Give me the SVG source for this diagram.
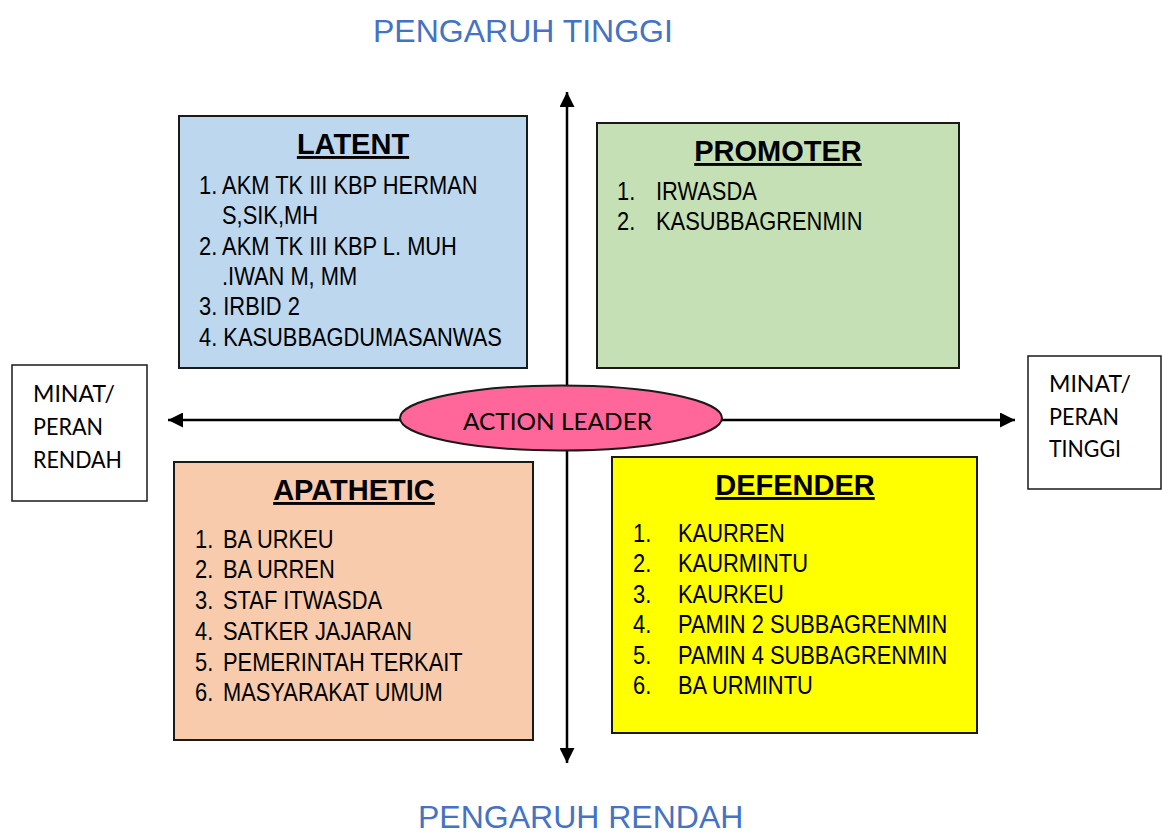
<svg xmlns="http://www.w3.org/2000/svg" width="1162" height="835" viewBox="0 0 1162 835">
<style>
  .box{stroke:#1a1a1a;stroke-width:2}
  .title{font-family:"Liberation Sans",Arial,sans-serif;font-size:29px;font-weight:bold;fill:#000;text-anchor:middle;text-decoration:underline}
  .it{font-family:"Liberation Sans",Arial,sans-serif;font-size:25px;fill:#000}
  .side{font-family:Lato,"Liberation Sans",sans-serif;font-size:24px;fill:#000}
  .axis{font-family:"Liberation Sans",Arial,sans-serif;font-size:32px;fill:#4472C4}
  .ax{stroke:#000;stroke-width:2.5;fill:none}
</style>
<defs>
  <marker id="arr" viewBox="0 0 10 10" refX="10" refY="5" markerWidth="16" markerHeight="15" markerUnits="userSpaceOnUse" orient="auto">
    <path d="M0,0 L10,5 L0,10 Z" fill="#000"/>
  </marker>
</defs>
<rect width="1162" height="835" fill="#fff"/>
<g id="axis-labels">
  <text class="axis" x="373" y="42">PENGARUH TINGGI</text>
  <text class="axis" x="418" y="828">PENGARUH RENDAH</text>
</g>
<g id="connectors">
  <line class="ax" x1="567" y1="420" x2="567" y2="92" marker-end="url(#arr)"/>
  <line class="ax" x1="567" y1="420" x2="567" y2="763" marker-end="url(#arr)"/>
  <line class="ax" x1="561" y1="420" x2="168" y2="420" marker-end="url(#arr)"/>
  <line class="ax" x1="561" y1="420" x2="1015" y2="420" marker-end="url(#arr)"/>
</g>
<g id="latent">
  <rect class="box" x="179" y="116" width="348" height="252" fill="#BDD7EE"/>
  <text class="title" x="353" y="154">LATENT</text>
  <text class="it" transform="translate(199 194) scale(.875 1)">1. AKM TK III KBP HERMAN</text>
  <text class="it" transform="translate(222 224) scale(.875 1)">S,SIK,MH</text>
  <text class="it" transform="translate(199 255) scale(.875 1)">2. AKM TK III KBP L. MUH</text>
  <text class="it" transform="translate(222 285) scale(.875 1)">.IWAN M, MM</text>
  <text class="it" transform="translate(199 315) scale(.875 1)">3. IRBID 2</text>
  <text class="it" transform="translate(199 346) scale(.875 1)">4. KASUBBAGDUMASANWAS</text>
</g>
<g id="promoter">
  <rect class="box" x="597" y="123" width="362" height="245" fill="#C5E0B4"/>
  <text class="title" x="778" y="161">PROMOTER</text>
  <text class="it" transform="translate(617 200) scale(.875 1)">1.</text>
  <text class="it" transform="translate(656 200) scale(.875 1)">IRWASDA</text>
  <text class="it" transform="translate(617 230) scale(.875 1)">2.</text>
  <text class="it" transform="translate(656 230) scale(.875 1)">KASUBBAGRENMIN</text>
</g>
<g id="apathetic">
  <rect class="box" x="174" y="462" width="359" height="278" fill="#F8CBAD"/>
  <text class="title" x="354" y="500">APATHETIC</text>
  <text class="it" transform="translate(195 548) scale(.875 1)">1.</text>
  <text class="it" transform="translate(223 548) scale(.875 1)">BA URKEU</text>
  <text class="it" transform="translate(195 578) scale(.875 1)">2.</text>
  <text class="it" transform="translate(223 578) scale(.875 1)">BA URREN</text>
  <text class="it" transform="translate(195 609) scale(.875 1)">3.</text>
  <text class="it" transform="translate(223 609) scale(.875 1)">STAF ITWASDA</text>
  <text class="it" transform="translate(195 640) scale(.875 1)">4.</text>
  <text class="it" transform="translate(223 640) scale(.875 1)">SATKER JAJARAN</text>
  <text class="it" transform="translate(195 671) scale(.875 1)">5.</text>
  <text class="it" transform="translate(223 671) scale(.875 1)">PEMERINTAH TERKAIT</text>
  <text class="it" transform="translate(195 701) scale(.875 1)">6.</text>
  <text class="it" transform="translate(223 701) scale(.875 1)">MASYARAKAT UMUM</text>
</g>
<g id="defender">
  <rect class="box" x="612" y="457" width="365" height="276" fill="#FFFF00"/>
  <text class="title" x="795" y="495">DEFENDER</text>
  <text class="it" transform="translate(633 542) scale(.875 1)">1.</text>
  <text class="it" transform="translate(678 542) scale(.875 1)">KAURREN</text>
  <text class="it" transform="translate(633 572) scale(.875 1)">2.</text>
  <text class="it" transform="translate(678 572) scale(.875 1)">KAURMINTU</text>
  <text class="it" transform="translate(633 603) scale(.875 1)">3.</text>
  <text class="it" transform="translate(678 603) scale(.875 1)">KAURKEU</text>
  <text class="it" transform="translate(633 633) scale(.875 1)">4.</text>
  <text class="it" transform="translate(678 633) scale(.875 1)">PAMIN 2 SUBBAGRENMIN</text>
  <text class="it" transform="translate(633 664) scale(.875 1)">5.</text>
  <text class="it" transform="translate(678 664) scale(.875 1)">PAMIN 4 SUBBAGRENMIN</text>
  <text class="it" transform="translate(633 694) scale(.875 1)">6.</text>
  <text class="it" transform="translate(678 694) scale(.875 1)">BA URMINTU</text>
</g>
<g id="action-leader">
  <ellipse cx="561" cy="418" rx="161" ry="32.5" fill="#FF6699" stroke="#1a1a1a" stroke-width="2"/>
  <text class="side" x="463" y="430" textLength="189" lengthAdjust="spacingAndGlyphs">ACTION LEADER</text>
</g>
<g id="minat-rendah">
  <rect x="12" y="365" width="135" height="136" fill="#fff" stroke="#1a1a1a" stroke-width="1.5"/>
  <text class="side" x="33" y="402" textLength="82" lengthAdjust="spacingAndGlyphs">MINAT/</text>
  <text class="side" x="33" y="435" textLength="70" lengthAdjust="spacingAndGlyphs">PERAN</text>
  <text class="side" x="33" y="468" textLength="89" lengthAdjust="spacingAndGlyphs">RENDAH</text>
</g>
<g id="minat-tinggi">
  <rect x="1028" y="356" width="133" height="133" fill="#fff" stroke="#1a1a1a" stroke-width="1.5"/>
  <text class="side" x="1049" y="392" textLength="82" lengthAdjust="spacingAndGlyphs">MINAT/</text>
  <text class="side" x="1049" y="425" textLength="70" lengthAdjust="spacingAndGlyphs">PERAN</text>
  <text class="side" x="1049" y="457" textLength="72" lengthAdjust="spacingAndGlyphs">TINGGI</text>
</g>
</svg>
